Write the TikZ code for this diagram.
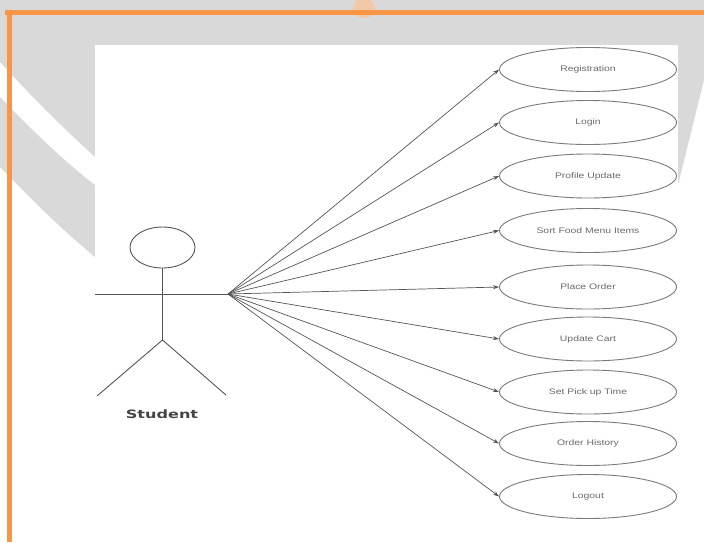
\documentclass[tikz,border=0pt]{standalone}
\usepackage{fontspec}
\usepackage{graphicx}
\setmainfont{Liberation Sans}
\newfontfamily\actorfont{DejaVu Sans}
\usetikzlibrary{shapes.geometric,arrows.meta}
\definecolor{bandgray}{HTML}{D9D9D9}
\definecolor{frameorange}{HTML}{F79646}
\definecolor{blobor}{HTML}{F2C9A6}
\definecolor{linegray}{HTML}{555555}
\definecolor{ellgray}{HTML}{7A7A7A}
\definecolor{txtgray}{HTML}{6A6A6A}
\definecolor{namegray}{HTML}{444444}
\begin{document}
\begin{tikzpicture}[x=1pt,y=1pt,
  usecase/.style={ellipse,draw=ellgray,line width=0.9pt,fill=white,
    minimum width=177pt,minimum height=44pt,inner sep=0pt,
    font=\fontsize{8}{9}\selectfont,text=txtgray},
  assoc/.style={draw=linegray,line width=0.7pt,-{Stealth[length=6pt,width=4pt]}},
  actorline/.style={draw=linegray,line width=0.9pt}]
\useasboundingbox (0,0) rectangle (704,-542);
% background and watermark
\fill[white] (0,0) rectangle (704,-542);
\fill[bandgray] (0,0) rectangle (704,-45);
\fill[blobor] (364,-8) ellipse (11pt and 10pt);
\fill[bandgray] (0,-45) -- (95,-45) -- (95,-157) .. controls (60,-125) and (30,-95) .. (0,-62) -- cycle;
\fill[bandgray] (0,-97) .. controls (30,-128) and (60,-158) .. (95,-185) -- (95,-257) .. controls (60,-228) and (30,-198) .. (0,-167) -- cycle;
\fill[bandgray] (678,-45) -- (704,-45) -- (704,-80) -- (678,-185) -- cycle;
\fill[white] (95,-45) rectangle (678,-542);
% orange frame
\fill[frameorange] (5,-10) rectangle (704,-15);
\fill[frameorange] (7,-10) rectangle (12,-542);
% actor
\node[ellipse,draw=linegray,line width=0.9pt,minimum width=65pt,minimum height=41pt,inner sep=0pt] (head) at (162.5,-247.5) {};
\coordinate (hip) at (162.5,-340);
\coordinate (armL) at (95,-294);
\coordinate (fan) at (228,-294);
\coordinate (footL) at (97,-396);
\coordinate (footR) at (226,-395);
\draw[actorline] (head.south) -- (hip);
\draw[actorline] (armL) -- (fan);
\draw[actorline] (footL) -- (hip) -- (footR);
\node[text=namegray] (actorname) at (162,-414) {\actorfont\bfseries\fontsize{11.5}{12}\selectfont\scalebox{1.4}[1]{Student}};
% use cases
\foreach \n/\yy/\t in {uc1/69.5/Registration, uc2/122.5/Login, uc3/176/Profile Update,
  uc4/230.5/Sort Food Menu Items, uc5/287/Place Order, uc6/339/Update Cart,
  uc7/392/Set Pick up Time, uc8/443.5/Order History, uc9/496.5/Logout}{
  \node[usecase] (\n) at (588,-\yy) {\scalebox{1.3}[1]{\t}};
}
\foreach \n in {uc1,uc2,uc3,uc4,uc5,uc6,uc7,uc8,uc9}{
  \draw[assoc] (fan) -- (\n.west);
}
\end{tikzpicture}
\end{document}
